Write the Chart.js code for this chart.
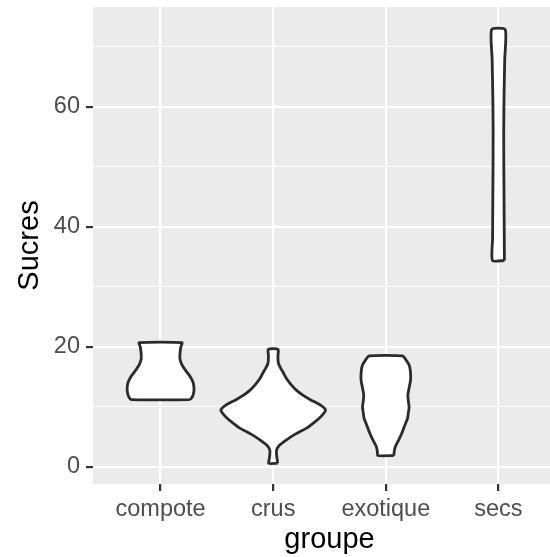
<!DOCTYPE html>
<html>
<head>
<meta charset="utf-8">
<script src="https://cdn.jsdelivr.net/npm/chart.js@4.4.1/dist/chart.umd.min.js"></script>
<style>
  html, body { margin: 0; padding: 0; background: #ffffff; overflow: hidden; }
  #wrap { width: 550px; height: 557px; overflow: hidden; }
  canvas { display: block; }
</style>
</head>
<body>
<div id="wrap"><canvas id="violin" width="566" height="557"></canvas></div>
<script>
// Groupes (axe x)
const categories = ['compote', 'crus', 'exotique', 'secs'];

// Graduations de l'axe y
const yMajorTicks = [0, 20, 40, 60];
const yMinorTicks = [10, 30, 50, 70];

// Contours des violons : niveaux de Sucres et demi-largeur (densité, en unités de groupe)
const compoteSucres = [11.2, 11.6, 12.2, 13.0, 14.0, 15.0, 16.0, 17.0, 18.0, 19.0, 20.0, 20.7];
const compoteLargeur = [0.262, 0.28, 0.292, 0.297, 0.29, 0.265, 0.225, 0.19, 0.172, 0.173, 0.18, 0.19];

const crusSucres = [0.6, 1.2, 2.0, 2.8, 3.5, 4.5, 5.5, 6.5, 7.5, 8.5, 9.5, 10.3, 11.2, 12.0, 12.8, 13.8, 14.8, 15.7, 16.5, 17.3, 18.5, 19.6];
const crusLargeur = [0.04, 0.036, 0.03, 0.03, 0.05, 0.118, 0.2, 0.3, 0.37, 0.43, 0.465, 0.42, 0.33, 0.26, 0.205, 0.155, 0.115, 0.09, 0.065, 0.046, 0.042, 0.044];

const exotiqueSucres = [1.9, 2.6, 3.4, 4.5, 5.6, 7.0, 8.1, 9.0, 10.0, 11.0, 12.0, 13.0, 14.5, 16.0, 17.0, 17.8, 18.5];
const exotiqueLargeur = [0.071, 0.075, 0.085, 0.115, 0.142, 0.17, 0.193, 0.2, 0.207, 0.2, 0.196, 0.205, 0.22, 0.218, 0.207, 0.18, 0.148];

const secsSucres = [34.4, 38, 44, 50, 56, 62, 68, 72.9];
const secsLargeur = [0.053, 0.052, 0.05, 0.048, 0.047, 0.05, 0.056, 0.06];

const FONT = '"Liberation Sans", Arial, Helvetica, sans-serif';

// contour fermé : côté droit de bas en haut, puis côté gauche de haut en bas
const outline = (pos, ys, ws) => {
    const pts = [];
    ys.forEach((y, i) => pts.push({ x: pos + ws[i], y: y }));
    for (let i = ys.length - 1; i >= 0; i--) pts.push({ x: pos - ws[i], y: ys[i] });
    pts.push({ x: pos + ws[0], y: ys[0] });
    return pts;
};

const groups = [
    [compoteSucres, compoteLargeur],
    [crusSucres, crusLargeur],
    [exotiqueSucres, exotiqueLargeur],
    [secsSucres, secsLargeur]
];

const datasets = groups.map((g, i) => ({
    label: categories[i],
    data: outline(i + 1, g[0], g[1]),
    showLine: true,
    fill: 'shape',
    backgroundColor: '#ffffff',
    borderColor: '#2b2b2b',
    borderWidth: 2.8,
    borderJoinStyle: 'round',
    tension: 0.2,
    pointRadius: 0,
    pointHoverRadius: 0
}));

// fond gris du panneau
const panelBg = {
    id: 'panelBg',
    beforeDraw(chart) {
        const { ctx, chartArea: a } = chart;
        ctx.save();
        ctx.fillStyle = '#EBEBEB';
        ctx.fillRect(a.left, a.top, a.right - a.left, a.bottom - a.top);
        ctx.restore();
    }
};

const isMajor = (ctx) => ctx.tick && yMajorTicks.includes(ctx.tick.value);

new Chart(document.getElementById('violin'), {
    type: 'scatter',
    data: { datasets },
    plugins: [panelBg],
    options: {
        responsive: false,
        animation: false,
        events: [],
        devicePixelRatio: 1,
        layout: { padding: { top: 7, right: 0, left: 0, bottom: 0 } },
        plugins: { legend: { display: false }, tooltip: { enabled: false } },
        scales: {
            x: {
                type: 'linear',
                min: 0.4,
                max: 4.6,
                afterBuildTicks: (s) => { s.ticks = categories.map((c, i) => ({ value: i + 1 })); },
                afterFit: (s) => { s.height = 73; s.paddingLeft = 0; s.paddingRight = 0; },
                border: { display: false },
                grid: {
                    color: '#ffffff',
                    lineWidth: 2.2,
                    drawTicks: true,
                    tickLength: 7,
                    tickWidth: 2.2,
                    tickColor: '#333333'
                },
                ticks: {
                    autoSkip: false,
                    maxRotation: 0,
                    padding: 4,
                    color: '#4D4D4D',
                    font: { family: FONT, size: 23.5 },
                    callback: (v) => categories[v - 1]
                },
                title: {
                    display: true,
                    text: 'groupe',
                    color: '#000000',
                    font: { family: FONT, size: 29 },
                    padding: { top: 0, bottom: 0 }
                }
            },
            y: {
                type: 'linear',
                min: -2.85,
                max: 76.65,
                afterBuildTicks: (s) => {
                    s.ticks = yMajorTicks.concat(yMinorTicks).sort((a, b) => a - b).map(v => ({ value: v }));
                },
                afterFit: (s) => { s.width = 93; s.paddingTop = 0; s.paddingBottom = 0; },
                border: { display: false },
                grid: {
                    color: '#ffffff',
                    lineWidth: (ctx) => isMajor(ctx) ? 2.2 : 1.1,
                    drawTicks: true,
                    tickLength: 7,
                    tickWidth: 2.2,
                    tickColor: (ctx) => isMajor(ctx) ? '#333333' : 'rgba(0,0,0,0)'
                },
                ticks: {
                    autoSkip: false,
                    padding: 6,
                    color: '#4D4D4D',
                    font: { family: FONT, size: 23.5 },
                    callback: (v) => yMajorTicks.includes(v) ? String(v) : ''
                },
                title: {
                    display: true,
                    text: 'Sucres',
                    color: '#000000',
                    font: { family: FONT, size: 29 },
                    padding: { top: 13, bottom: 0 }
                }
            }
        }
    }
});
</script>
</body>
</html>
